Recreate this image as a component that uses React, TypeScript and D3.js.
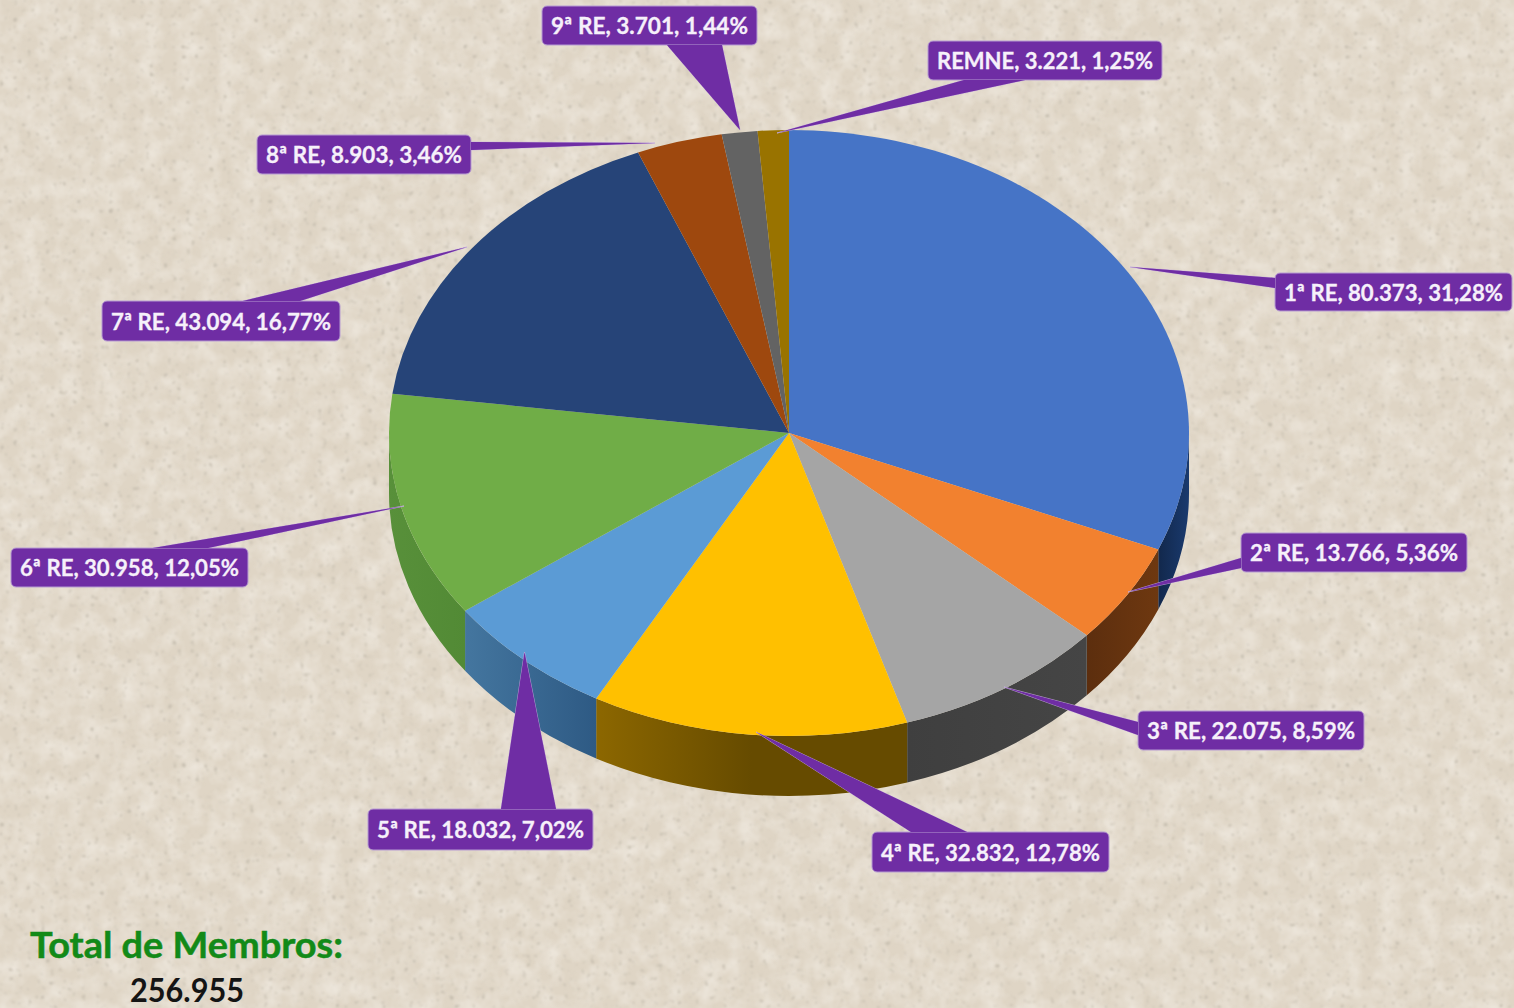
import React from "react";
import * as d3 from "d3";

const names = ["1ª RE", "2ª RE", "3ª RE", "4ª RE", "5ª RE", "6ª RE", "7ª RE", "8ª RE", "9ª RE", "REMNE"];
const members = [80373, 13766, 22075, 32832, 18032, 30958, 43094, 8903, 3701, 3221];
const topColors = ["#4674c6", "#f2812f", "#a5a5a5", "#ffc000", "#5b9bd5", "#70ad47", "#264478", "#9e480e", "#636363", "#997300"];
const wallFrom = ["#1a3a6e", "#6e3810", "#454545", "#8c6700", "#44769f", "#58903a", "#1a3058", "#6e320a", "#444", "#6a5000"];
const wallTo = ["#12284c", "#5c2e0e", "#3f3f3f", "#664b00", "#2e5a84", "#528a35", "#1a3058", "#6e320a", "#444", "#6a5000"];

// callout layout: box [x0,y0,x1,y1], tip, base points
const boxes = [
  [1275, 273, 1512, 311], [1241, 533, 1467, 572], [1138, 711, 1364, 750], [872, 832, 1109, 872],
  [368, 809, 593, 850], [11, 548, 248, 587], [102, 301, 340, 341], [257, 135, 471, 174],
  [542, 6, 757, 45], [928, 41, 1162, 80],
];
const wedges = [
  [[1130, 267], [1275, 278], [1275, 288]],
  [[1128, 592], [1241, 558], [1241, 568]],
  [[1004, 687], [1138, 722], [1138, 735]],
  [[756, 732], [911, 832], [967, 832]],
  [[524.5, 652], [501, 809], [556, 809]],
  [[404, 506], [153, 548], [208, 548]],
  [[467, 247], [243, 301], [300, 301]],
  [[655, 143], [471, 142], [471, 150]],
  [[740, 130], [667, 45], [722, 45]],
  [[777, 133], [964, 80], [1025, 80]],
];

const cx = 789, cy = 433, rx = 400, ry = 303, depth = 60;

export default function App() {
  const total = d3.sum(members);
  const loc = d3.formatLocale({ decimal: ",", thousands: ".", grouping: [3], currency: ["", ""] });
  const fInt = loc.format(",d");
  const fPct = loc.format(".2f");
  const pie = d3.pie<number>().sort(null).startAngle(0).endAngle(2 * Math.PI);
  const arcs = pie(members);
  const arcGen = d3.arc<d3.PieArcDatum<number>>().innerRadius(0).outerRadius(rx);
  const px = (a: number) => cx + rx * Math.sin(a);
  const py = (a: number) => cy - ry * Math.cos(a);

  const walls = arcs.map((d, i) => {
    const a0 = Math.max(d.startAngle, Math.PI / 2);
    const a1 = Math.min(d.endAngle, (3 * Math.PI) / 2);
    if (a1 <= a0) return null;
    const p =
      `M${px(a0)},${py(a0)} A${rx},${ry} 0 0 1 ${px(a1)},${py(a1)} ` +
      `L${px(a1)},${py(a1) + depth} A${rx},${ry} 0 0 0 ${px(a0)},${py(a0) + depth} Z`;
    return { i, p, x0: Math.min(px(a0), px(a1)), x1: Math.max(px(a0), px(a1)) };
  });

  return (
    <svg width={1514} height={1008} style={{ position: "fixed", left: 0, top: 0, display: "block" }}>
      <defs>
        <filter id="mottle" x="0" y="0" width="100%" height="100%">
          <feTurbulence type="fractalNoise" baseFrequency="0.05" numOctaves="3" seed="4" />
          <feColorMatrix type="matrix" values="0 0 0 0 0.95  0 0 0 0 0.92  0 0 0 0 0.87  0 0 0 0.9 -0.3" />
        </filter>
        <filter id="speck" x="0" y="0" width="100%" height="100%">
          <feTurbulence type="fractalNoise" baseFrequency="0.22" numOctaves="2" seed="9" />
          <feColorMatrix type="matrix" values="0 0 0 0 0.55  0 0 0 0 0.50  0 0 0 0 0.42  0 0 0 6 -3.9" />
          <feGaussianBlur stdDeviation="0.9" />
        </filter>
        {walls.map((w) =>
          w ? (
            <linearGradient key={w.i} id={`wall${w.i}`} gradientUnits="userSpaceOnUse" x1={w.x0} x2={w.x1} y1={0} y2={0}>
              <stop offset="0" stopColor={w.i < 3 ? wallTo[w.i] : wallFrom[w.i]} />
              <stop offset={w.i === 3 ? 0.5 : 1} stopColor={w.i < 3 ? wallFrom[w.i] : wallTo[w.i]} />
            </linearGradient>
          ) : null
        )}
      </defs>

      <rect width={1514} height={1008} fill="#dfd5c5" />
      <rect width={1514} height={1008} filter="url(#mottle)" />
      <rect width={1514} height={1008} filter="url(#speck)" />

      {walls.map((w) => (w ? <path key={w.i} d={w.p} fill={`url(#wall${w.i})`} /> : null))}

      <g transform={`translate(${cx},${cy}) scale(1,${ry / rx})`}>
        {arcs.map((d, i) => (
          <path key={i} d={arcGen(d) || ""} fill={topColors[i]} />
        ))}
      </g>

      {names.map((n, i) => {
        const [x0, y0, x1, y1] = boxes[i];
        const [t, a, b] = wedges[i];
        const label = `${n}, ${fInt(members[i])}, ${fPct((members[i] / total) * 100)}%`;
        return (
          <g key={n}>
            <polygon points={`${t} ${a} ${b}`} fill="#7030a0" stroke="#c9b3de" strokeWidth={0.8} />
            <rect x={x0} y={y0} width={x1 - x0} height={y1 - y0} rx={5} fill="#6f2da4" stroke="#b79cd2" strokeWidth={1} />
            <polygon points={`${t} ${a} ${b}`} fill="#6f2da4" />
            <text
              x={(x0 + x1) / 2}
              y={(y0 + y1) / 2 + 8.5}
              textAnchor="middle"
              fontFamily="Lato, 'Open Sans', sans-serif"
              fontWeight={700}
              fontSize={23}
              fill="#f6f0fa"
              stroke="#f6f0fa"
              strokeWidth={0.3}
              textLength={x1 - x0 - 18}
              lengthAdjust="spacingAndGlyphs"
            >
              {label}
            </text>
          </g>
        );
      })}

      <text x={30} y={958} fontFamily="Lato, sans-serif" fontWeight={700} fontSize={36} fill="#128a18" stroke="#128a18" strokeWidth={0.5} textLength={313} lengthAdjust="spacingAndGlyphs">
        Total de Membros:
      </text>
      <text x={130} y={1002} fontFamily="Lato, sans-serif" fontWeight={700} fontSize={32} fill="#141414" textLength={114} lengthAdjust="spacingAndGlyphs">
        {fInt(total)}
      </text>
    </svg>
  );
}
